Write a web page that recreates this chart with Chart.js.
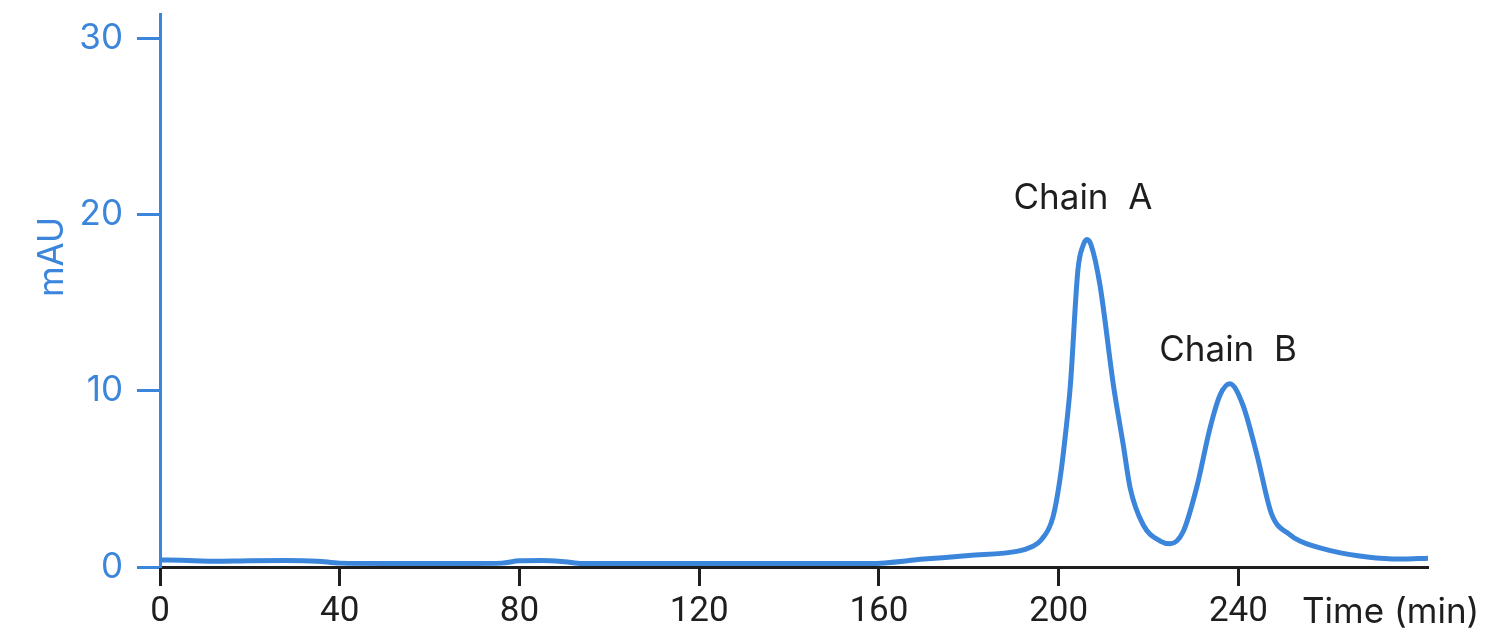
<!DOCTYPE html>
<html>
<head>
<meta charset="utf-8">
<script src="https://cdn.jsdelivr.net/npm/chart.js@4.4.1/dist/chart.umd.min.js"></script>
<style>
  body { margin: 0; background: #fff; }
  canvas { display: block; }
</style>
</head>
<body>
<canvas id="chromatogram" width="1485" height="640"></canvas>
<script>
// Time axis (min) and absorbance (mAU)
var timeMin = [0, 5, 12, 20, 28, 35, 40, 50, 60, 70, 76, 80, 85, 90, 94, 100, 120, 140, 158, 170, 180, 191, 194, 196,
  198.7, 200.3, 201.5, 202.6, 204.3, 205.5, 206.3, 207.2, 209.2, 212.2, 214.4, 215.9, 218.8, 222.6, 224.8, 227.7,
  230.7, 233.7, 235.9, 238.1, 241, 244.1, 247.4, 251.5, 253.7, 261, 268.7, 276, 282.2];
var mAU = [0.4, 0.38, 0.33, 0.36, 0.37, 0.33, 0.22, 0.2, 0.2, 0.2, 0.22, 0.35, 0.37, 0.3, 0.2, 0.2, 0.2, 0.2, 0.2, 0.45, 0.65, 0.9, 1.15, 1.5,
  2.8, 5.0, 7.5, 10.3, 16.9, 18.3, 18.6, 18.3, 16, 10.3, 6.9, 4.5, 2.4, 1.47, 1.32, 2.0,
  4.5, 7.9, 9.75, 10.4, 9.2, 6.4, 3.0, 1.83, 1.47, 0.9, 0.57, 0.45, 0.5];

var xTicks = [0, 40, 80, 120, 160, 200, 240];
var yTicks = [0, 10, 20, 30];

// peak labels: [text, time, mAU]
var peakNames = ['Chain  A', 'Chain  B'];
var peakTimes = [205.4, 237.7];
var peakLevels = [20.9, 12.3];

var blue = '#3b86db';
var dark = '#1e1e1e';

var points = timeMin.map(function (t, i) { return { x: t, y: mAU[i] }; });

// draws the free text: peak names, axis names
const textLabels = {
  id: 'textLabels',
  afterDraw(chart) {
    var ctx = chart.ctx;
    var xs = chart.scales.x, ys = chart.scales.y;
    ctx.save();
    ctx.textAlign = 'center';
    ctx.textBaseline = 'middle';
    ctx.fillStyle = dark;
    ctx.font = '35px Inter';
    peakNames.forEach(function (name, i) {
      ctx.fillText(name, xs.getPixelForValue(peakTimes[i]), ys.getPixelForValue(peakLevels[i]));
    });
    ctx.textAlign = 'left';
    ctx.fillText('Time (min)', 1302, 612);
    ctx.translate(52, 257);
    ctx.rotate(-Math.PI / 2);
    ctx.textAlign = 'center';
    ctx.fillStyle = blue;
    ctx.fillText('mAU', 0, 0);
    ctx.restore();
  }
};

var ctx_chrom = document.getElementById('chromatogram');
var chrom = new Chart(ctx_chrom, {
  type: 'scatter',
  data: {
    datasets: [
      {
        label: 'mAU',
        data: points,
        showLine: true,
        borderColor: blue,
        borderWidth: 5,
        pointRadius: 0,
        cubicInterpolationMode: 'monotone',
        fill: false,
      }
    ],
  },
  options: {
    responsive: false,
    animation: false,
    layout: {
      padding: { left: 0, top: 0, right: 57, bottom: 0 }
    },
    plugins: {
      legend: { display: false },
      tooltip: { enabled: false },
    },
    scales: {
      x: {
        type: 'linear',
        min: 0,
        max: 282.2,
        afterBuildTicks: function (scale) {
          scale.ticks = xTicks.map(function (v) { return { value: v }; });
        },
        afterFit: function (scale) {
          scale.height = 73;
          scale.paddingLeft = 0;
          scale.paddingRight = 0;
        },
        border: { color: dark, width: 3 },
        grid: {
          drawOnChartArea: false,
          drawTicks: true,
          tickLength: 19,
          tickWidth: 3,
          tickColor: dark,
        },
        ticks: {
          color: dark,
          padding: 5,
          maxRotation: 0,
          autoSkip: false,
          font: { family: 'Roboto', size: 35 },
        },
      },
      y: {
        type: 'linear',
        min: 0,
        max: 31.4,
        afterBuildTicks: function (scale) {
          scale.ticks = yTicks.map(function (v) { return { value: v }; });
        },
        afterFit: function (scale) {
          scale.width = 160;
          scale.paddingTop = 14;
          scale.paddingBottom = 0;
        },
        border: { color: blue, width: 3 },
        grid: {
          drawOnChartArea: false,
          drawTicks: true,
          tickLength: 23,
          tickWidth: 3,
          tickColor: blue,
        },
        ticks: {
          color: blue,
          padding: 14,
          font: { family: 'Inter', size: 35 },
        },
      }
    }
  },
  plugins: [textLabels]
});
</script>
</body>
</html>
